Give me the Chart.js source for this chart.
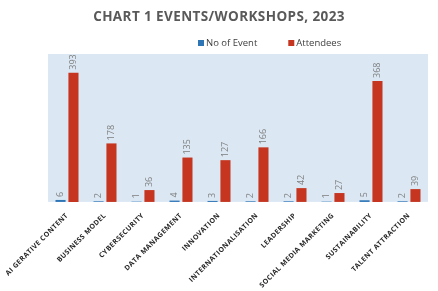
<!DOCTYPE html>
<html>
<head>
<meta charset="utf-8">
<script src="https://cdn.jsdelivr.net/npm/chart.js@4"></script>
<style>
  body { margin: 0; background: #fff; }
</style>
</head>
<body>
<canvas id="eventsChart" width="438" height="291"></canvas>
<script>
const categories = ['AI GERATIVE CONTENT', 'BUSINESS MODEL', 'CYBERSECURITY', 'DATA MANAGEMENT', 'INNOVATION', 'INTERNATIONALISATION', 'LEADERSHIP', 'SOCIAL MEDIA MARKETING', 'SUSTAINABILITY', 'TALENT ATTRACTION']
const events = [6, 2, 1, 4, 3, 2, 2, 1, 5, 2]
const attendees = [393, 178, 36, 135, 127, 166, 42, 27, 368, 39]
const chartTitle = 'CHART 1 EVENTS/WORKSHOPS, 2023'

// category labels are letter-spaced in the original
const spacing = {
  id: 'spacing',
  afterInit(chart) {
    chart.ctx.letterSpacing = '0.4px'
  }
}

// light blue fill behind the bars
const plotBg = {
  id: 'plotBg',
  beforeDraw(chart) {
    const { ctx, chartArea } = chart
    ctx.save()
    ctx.fillStyle = '#dbe8f4'
    ctx.fillRect(chartArea.left, chartArea.top, chartArea.right - chartArea.left, chartArea.bottom - chartArea.top)
    ctx.restore()
  }
}

// vertical value labels above each bar
const barLabels = {
  id: 'barLabels',
  afterDatasetsDraw(chart) {
    const ctx = chart.ctx
    ctx.save()
    ctx.letterSpacing = '0px'
    ctx.font = '9px "Open Sans"'
    ctx.fillStyle = '#7f7f7f'
    ctx.textAlign = 'left'
    ctx.textBaseline = 'middle'
    chart.data.datasets.forEach((ds, i) => {
      chart.getDatasetMeta(i).data.forEach((bar, j) => {
        ctx.save()
        ctx.translate(bar.x, bar.y - 3)
        ctx.rotate(-Math.PI / 2)
        ctx.fillText(ds.data[j], 0, 0)
        ctx.restore()
      })
    })
    ctx.restore()
  }
}

// title is centred on the page, legend sits right of centre: draw both by hand
const header = {
  id: 'header',
  afterDraw(chart) {
    const ctx = chart.ctx
    ctx.save()
    ctx.letterSpacing = '0.4px'
    ctx.font = 'bold 13.5px "Open Sans"'
    ctx.fillStyle = '#595959'
    ctx.textAlign = 'center'
    ctx.textBaseline = 'middle'
    ctx.fillText(chartTitle, chart.width / 2, 17)

    ctx.letterSpacing = '0px'
    ctx.font = '9.5px "Open Sans"'
    ctx.textAlign = 'left'
    let x = 198
    const y = 43
    chart.data.datasets.forEach(ds => {
      ctx.fillStyle = ds.backgroundColor
      ctx.fillRect(x, y - 3, 6, 6)
      ctx.fillStyle = '#404040'
      ctx.fillText(ds.label, x + 8, y)
      x += 8 + ctx.measureText(ds.label).width + 31
    })
    ctx.restore()
  }
}

const ctx = document.getElementById('eventsChart').getContext('2d')
new Chart(ctx, {
  type: 'bar',
  data: {
    labels: categories,
    datasets: [
      { label: 'No of Event', data: events, backgroundColor: '#2e75b6', categoryPercentage: 0.68, barPercentage: 0.78 },
      { label: 'Attendees', data: attendees, backgroundColor: '#c5351f', categoryPercentage: 0.68, barPercentage: 0.78 }
    ]
  },
  options: {
    responsive: false,
    animation: false,
    layout: { padding: { top: 54, left: 48, right: 10, bottom: 0 } },
    plugins: {
      legend: { display: false },
      tooltip: { enabled: false },
      title: { display: false }
    },
    scales: {
      x: {
        grid: { display: false },
        border: { display: false },
        ticks: {
          autoSkip: false,
          minRotation: 45,
          maxRotation: 45,
          padding: 1.5,
          color: '#262626',
          font: { family: 'Open Sans', size: 7, weight: 'bold' }
        }
      },
      y: { display: false, min: 0, max: 450 }
    }
  },
  plugins: [spacing, plotBg, barLabels, header]
})
</script>
</body>
</html>
